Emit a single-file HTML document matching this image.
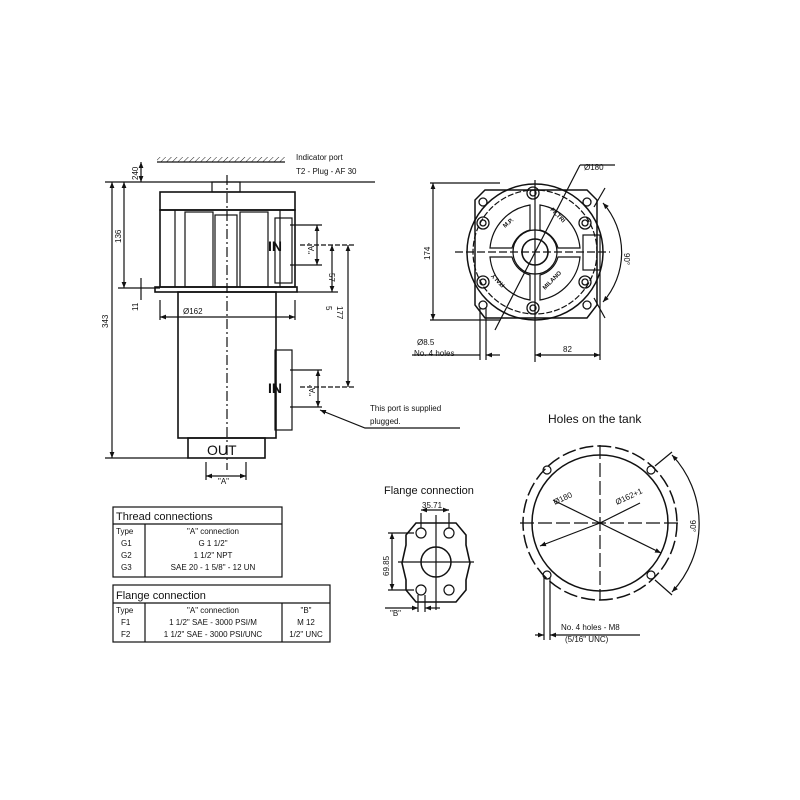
<!DOCTYPE html><html><head><style>body{margin:0;background:#fff}svg{display:block}text{font-family:"Liberation Sans",sans-serif;fill:#111}</style></head><body>
<svg width="800" height="800" viewBox="0 0 800 800" xmlns="http://www.w3.org/2000/svg">
<defs>
<pattern id="h" width="4" height="4" patternUnits="userSpaceOnUse" patternTransform="rotate(45)"><line x1="0" y1="0" x2="0" y2="4" stroke="#222" stroke-width="1"/></pattern>
<marker id="a" markerWidth="6" markerHeight="6" refX="5" refY="3" orient="auto-start-reverse"><path d="M0,1 L5,3 L0,5z" fill="#111"/></marker>
</defs>
<g stroke="#111" fill="none" stroke-width="1.2">
<rect x="157" y="157" width="128" height="5" fill="url(#h)" stroke="none"/>
<line x1="157" y1="162" x2="285" y2="162"/>
<line x1="105" y1="182" x2="375" y2="182"/>
<rect x="212" y="182" width="28" height="10"/>
<rect x="160" y="192" width="135" height="18" stroke-width="1.6"/>
<rect x="160" y="210" width="135" height="77" stroke-width="1.6"/>
<rect x="155" y="287" width="142" height="5" stroke-width="1.6"/>
<rect x="185" y="212" width="28" height="75"/><rect x="215" y="215" width="22" height="72"/><rect x="240" y="212" width="28" height="75"/>
<line x1="175" y1="210" x2="175" y2="287"/><line x1="280" y1="210" x2="280" y2="287"/>
<rect x="178" y="292" width="98" height="146" stroke-width="1.6"/>
<rect x="188" y="438" width="77" height="20" stroke-width="1.6"/>
<rect x="275" y="218" width="17" height="65"/><rect x="275" y="350" width="17" height="80"/>
<line x1="227" y1="175" x2="227" y2="470" stroke-dasharray="10,3,2,3"/>
<line x1="112" y1="182" x2="112" y2="458" marker-start="url(#a)" marker-end="url(#a)"/>
<line x1="105" y1="458" x2="188" y2="458"/>
<line x1="124" y1="182" x2="124" y2="288" marker-start="url(#a)" marker-end="url(#a)"/>
<line x1="118" y1="288" x2="160" y2="288"/>
<line x1="141" y1="162" x2="141" y2="182" marker-start="url(#a)" marker-end="url(#a)"/>
<line x1="141" y1="278" x2="141" y2="300"/>
<line x1="160" y1="300" x2="160" y2="320"/><line x1="295" y1="300" x2="295" y2="320"/>
<line x1="160" y1="317" x2="295" y2="317" marker-start="url(#a)" marker-end="url(#a)"/>
<line x1="206" y1="462" x2="206" y2="480"/><line x1="246" y1="462" x2="246" y2="480"/>
<line x1="206" y1="476" x2="246" y2="476" marker-start="url(#a)" marker-end="url(#a)"/>
<line x1="290" y1="225" x2="322" y2="225"/><line x1="290" y1="265" x2="322" y2="265"/>
<line x1="317" y1="225" x2="317" y2="265" marker-start="url(#a)" marker-end="url(#a)"/>
<line x1="300" y1="245" x2="355" y2="245" stroke-dasharray="5,2"/>
<line x1="332" y1="245" x2="332" y2="292" marker-start="url(#a)" marker-end="url(#a)"/>
<line x1="297" y1="292" x2="338" y2="292"/>
<line x1="348" y1="245" x2="348" y2="387" marker-start="url(#a)" marker-end="url(#a)"/>
<line x1="290" y1="370" x2="322" y2="370"/><line x1="290" y1="407" x2="322" y2="407"/>
<line x1="318" y1="370" x2="318" y2="407" marker-start="url(#a)" marker-end="url(#a)"/>
<line x1="300" y1="387" x2="355" y2="387" stroke-dasharray="5,2"/>
<polyline points="320,410 365,428 460,428" marker-start="url(#a)"/>
<path d="M485,190 L587,190 L597,200 L597,305 L587,318 L485,318 L475,305 L475,200 Z" stroke-width="1.5"/>
<circle cx="535" cy="252" r="68" stroke-width="1.5"/>
<circle cx="535" cy="252" r="62" stroke-dasharray="6,2"/>
<circle cx="535" cy="252" r="13" stroke-width="1.6"/>
<circle cx="535" cy="252" r="22"/>
<rect x="583" y="235" width="17" height="35"/>
<g stroke-width="1.3">
<circle cx="533" cy="193" r="6"/><circle cx="533" cy="193" r="3"/>
<circle cx="483" cy="223" r="6"/><circle cx="483" cy="223" r="3"/>
<circle cx="585" cy="223" r="6"/><circle cx="585" cy="223" r="3"/>
<circle cx="483" cy="282" r="6"/><circle cx="483" cy="282" r="3"/>
<circle cx="585" cy="282" r="6"/><circle cx="585" cy="282" r="3"/>
<circle cx="533" cy="308" r="6"/><circle cx="533" cy="308" r="3"/>
<circle cx="483" cy="202" r="4"/><circle cx="587" cy="202" r="4"/><circle cx="483" cy="305" r="4"/><circle cx="587" cy="305" r="4"/>
</g>
<path d="M490,248 A48,48 0 0 1 530,205 L530,230 A25,25 0 0 0 512,248 Z"/>
<path d="M540,205 A48,48 0 0 1 580,248 L558,248 A25,25 0 0 0 540,230 Z"/>
<path d="M490,257 A48,48 0 0 0 530,300 L530,275 A25,25 0 0 1 512,257 Z"/>
<path d="M540,300 A48,48 0 0 0 580,257 L558,257 A25,25 0 0 1 540,275 Z"/>
<line x1="455" y1="252" x2="610" y2="252" stroke-dasharray="8,3"/>
<line x1="535" y1="180" x2="535" y2="362"/>
<line x1="430" y1="183" x2="500" y2="183"/><line x1="430" y1="320" x2="500" y2="320"/>
<line x1="433" y1="183" x2="433" y2="320" marker-start="url(#a)" marker-end="url(#a)"/>
<line x1="495" y1="330" x2="580" y2="165"/><line x1="580" y1="165" x2="615" y2="165"/>
<path d="M603,203 A75,75 0 0 1 603,302" marker-start="url(#a)" marker-end="url(#a)"/>
<line x1="594" y1="207" x2="605" y2="188"/><line x1="594" y1="298" x2="605" y2="318"/>
<line x1="480" y1="308" x2="480" y2="360"/><line x1="486" y1="308" x2="486" y2="360"/>
<line x1="412" y1="355" x2="480" y2="355"/><line x1="486" y1="355" x2="500" y2="355" marker-start="url(#a)"/>
<line x1="600" y1="270" x2="600" y2="360"/>
<line x1="535" y1="355" x2="600" y2="355" marker-start="url(#a)" marker-end="url(#a)"/>
<path d="M416,523 L456,523 L466,535 L466,545 L470,563 L466,580 L466,590 L456,602 L416,602 L406,590 L406,580 L402,563 L406,545 L406,535 Z" stroke-width="1.6"/>
<circle cx="436" cy="562" r="15" stroke-width="1.5"/>
<circle cx="421" cy="533" r="5"/><circle cx="449" cy="533" r="5"/><circle cx="421" cy="590" r="5"/><circle cx="449" cy="590" r="5"/>
<line x1="398" y1="562" x2="474" y2="562"/><line x1="436" y1="515" x2="436" y2="610"/>
<line x1="421" y1="513" x2="421" y2="528"/><line x1="449" y1="513" x2="449" y2="528"/>
<line x1="421" y1="510" x2="449" y2="510" marker-start="url(#a)" marker-end="url(#a)"/>
<line x1="388" y1="533" x2="414" y2="533"/><line x1="388" y1="590" x2="414" y2="590"/>
<line x1="392" y1="533" x2="392" y2="590" marker-start="url(#a)" marker-end="url(#a)"/>
<line x1="418" y1="595" x2="418" y2="612"/><line x1="425" y1="595" x2="425" y2="612"/>
<line x1="385" y1="608" x2="418" y2="608" marker-end="url(#a)"/><line x1="440" y1="608" x2="425" y2="608" marker-end="url(#a)"/>
<circle cx="600" cy="523" r="77" stroke-dasharray="14,4" stroke-width="1.5"/>
<circle cx="600" cy="523" r="68" stroke-width="1.5"/>
<line x1="520" y1="523" x2="680" y2="523" stroke-dasharray="14,4"/>
<line x1="600" y1="445" x2="600" y2="600" stroke-dasharray="14,4"/>
<circle cx="547" cy="470" r="4"/><circle cx="651" cy="470" r="4"/><circle cx="547" cy="575" r="4"/><circle cx="651" cy="575" r="4"/>
<line x1="553" y1="500" x2="600" y2="523"/><line x1="600" y1="523" x2="540" y2="546" marker-end="url(#a)"/>
<line x1="600" y1="523" x2="640" y2="503"/><line x1="600" y1="523" x2="661" y2="553" marker-end="url(#a)"/>
<path d="M672,455 A100,100 0 0 1 672,592" marker-start="url(#a)" marker-end="url(#a)"/>
<line x1="655" y1="466" x2="672" y2="452"/><line x1="655" y1="580" x2="672" y2="595"/>
<line x1="544" y1="578" x2="544" y2="640"/><line x1="550" y1="578" x2="550" y2="640"/>
<line x1="535" y1="635" x2="544" y2="635" marker-end="url(#a)"/><line x1="640" y1="635" x2="550" y2="635" marker-end="url(#a)"/>
<rect x="113" y="507" width="169" height="70"/><line x1="113" y1="524" x2="282" y2="524"/><line x1="145" y1="524" x2="145" y2="577"/>
<rect x="113" y="585" width="217" height="57"/><line x1="113" y1="603" x2="330" y2="603"/><line x1="145" y1="603" x2="145" y2="642"/><line x1="282" y1="603" x2="282" y2="642"/>
</g>
<g font-size="8">
<text x="296" y="160">Indicator port</text><text x="296" y="174">T2 - Plug - AF 30</text>
<text x="370" y="411">This port is supplied</text><text x="370" y="424">plugged.</text>
<text x="183" y="314">Ø162</text>
<text x="218" y="484">"A"</text>
<text x="584" y="170">Ø180</text>
<text x="417" y="345">Ø8.5</text><text x="414" y="356">No. 4 holes</text>
<text x="563" y="352">82</text>
<text x="422" y="508">35.71</text>
<text x="390" y="616">"B"</text>
<text x="561" y="630">No. 4 holes - M8</text><text x="565" y="642">(5/16" UNC)</text>
<text transform="translate(108,328) rotate(-90)">343</text>
<text transform="translate(121,243) rotate(-90)">136</text>
<text transform="translate(138,180) rotate(-90)">240</text>
<text transform="translate(138,311) rotate(-90)">11</text>
<text transform="translate(314,254) rotate(-90)">"A"</text>
<text transform="translate(329,273) rotate(90)">57</text>
<text transform="translate(326,306) rotate(90)">5</text>
<text transform="translate(337,306) rotate(90)">177</text>
<text transform="translate(315,396) rotate(-90)">"A"</text>
<text transform="translate(430,260) rotate(-90)">174</text>
<text transform="translate(624,253) rotate(90)">90°</text>
<text transform="translate(389,576) rotate(-90)">69.85</text>
<text transform="translate(690,520) rotate(90)">90°</text>
<text transform="translate(555,505) rotate(-25)">Ø180</text>
<text transform="translate(617,505) rotate(-25)">Ø162+1</text>
<text transform="translate(505,228) rotate(-40)" font-size="6" font-weight="bold">M.P.</text>
<text transform="translate(550,210) rotate(45)" font-size="6" font-weight="bold">FILTRI</text>
<text transform="translate(505,285) rotate(-135)" font-size="6" font-weight="bold">ITALY</text>
<text transform="translate(545,290) rotate(-45)" font-size="6" font-weight="bold">MILANO</text>
</g>
<text x="268" y="251" font-size="14" font-weight="bold">IN</text>
<text x="268" y="393" font-size="14" font-weight="bold">IN</text>
<text x="207" y="455" font-size="14">OUT</text>
<text x="548" y="423" font-size="12">Holes on the tank</text>
<text x="384" y="494" font-size="11">Flange connection</text>
<g font-size="11"><text x="116" y="520">Thread connections</text><text x="116" y="599">Flange connection</text></g>
<g font-size="8">
<text x="116" y="534">Type</text><text x="121" y="546">G1</text><text x="121" y="558">G2</text><text x="121" y="570">G3</text>
<g text-anchor="middle"><text x="213" y="534">"A" connection</text><text x="213" y="546">G 1 1/2"</text><text x="213" y="558">1 1/2" NPT</text><text x="213" y="570">SAE 20 - 1 5/8" - 12 UN</text></g>
<text x="116" y="613">Type</text><text x="121" y="625">F1</text><text x="121" y="637">F2</text>
<g text-anchor="middle"><text x="213" y="613">"A" connection</text><text x="213" y="625">1 1/2" SAE - 3000 PSI/M</text><text x="213" y="637">1 1/2" SAE - 3000 PSI/UNC</text>
<text x="306" y="613">"B"</text><text x="306" y="625">M 12</text><text x="306" y="637">1/2" UNC</text></g>
</g>
</svg></body></html>
